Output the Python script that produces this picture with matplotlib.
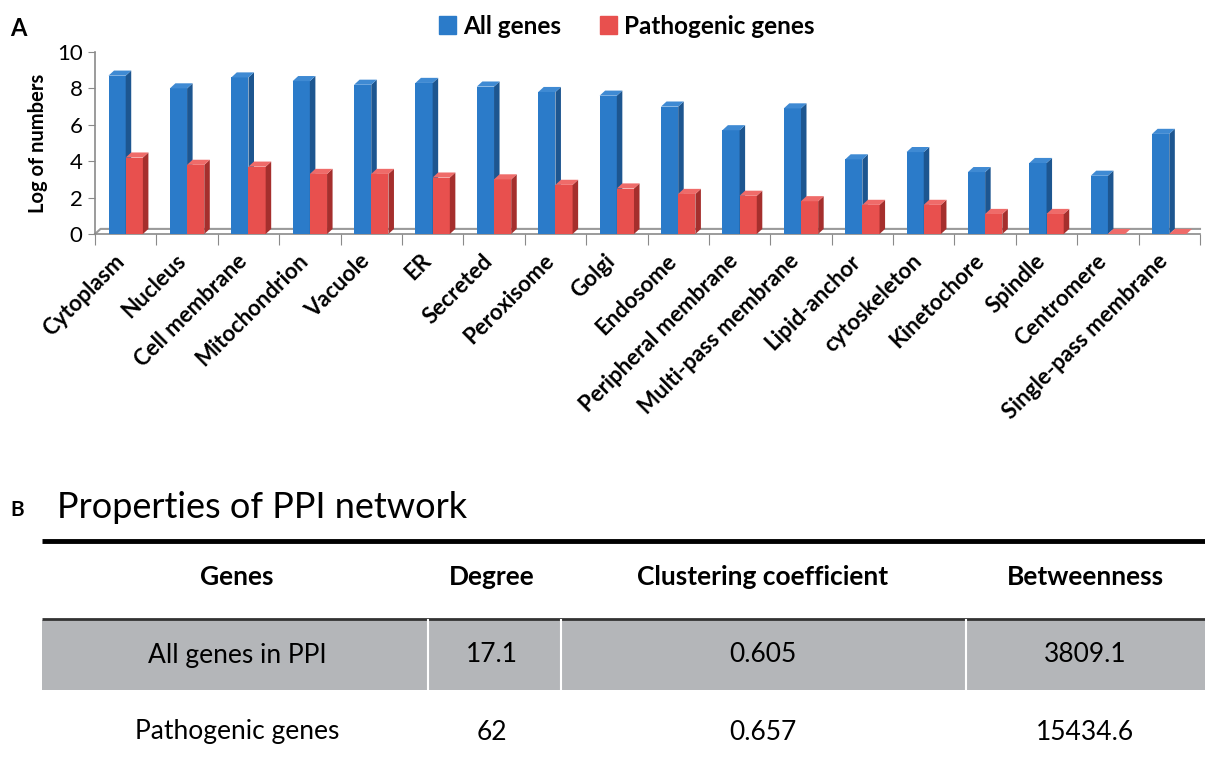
import matplotlib.pyplot as plt
from matplotlib.patches import Polygon, Rectangle
import numpy as np

plt.rcParams['font.family'] = ['Lato', 'DejaVu Sans']

# sub-cellular locations and log counts
locations = ['Cytoplasm', 'Nucleus', 'Cell membrane', 'Mitochondrion', 'Vacuole', 'ER',
             'Secreted', 'Peroxisome', 'Golgi', 'Endosome', 'Peripheral membrane',
             'Multi-pass membrane', 'Lipid-anchor', 'cytoskeleton', 'Kinetochore',
             'Spindle', 'Centromere', 'Single-pass membrane']
all_genes = [8.7, 8.0, 8.6, 8.4, 8.2, 8.3, 8.1, 7.8, 7.6, 7.0, 5.7, 6.9, 4.1, 4.5, 3.4, 3.9, 3.2, 5.5]
pathogenic = [4.2, 3.8, 3.7, 3.3, 3.3, 3.1, 3.0, 2.7, 2.5, 2.2, 2.1, 1.8, 1.6, 1.6, 1.1, 1.1, 0.0, 0.0]

# table of network properties
col_names = ['Genes', 'Degree', 'Clustering coefficient', 'Betweenness']
row_all = ['All genes in PPI', '17.1', '0.605', '3809.1']
row_path = ['Pathogenic genes', '62', '0.657', '15434.6']

W, H = 1205, 758
fig = plt.figure(figsize=(W / 100, H / 100), dpi=100)

# ---- panel A: pseudo-3D grouped bars ----
ax = fig.add_axes([95 / W, 1 - 234 / H, 1105 / W, 182 / H])
n = len(locations)
x = np.arange(n)
bw = 0.28
dx, dy = 0.09, 0.28

blue_f, blue_s, blue_t = '#2b7bc9', '#1d5690', '#3f8ad3'
red_f, red_s, red_t = '#e8504e', '#a52f2d', '#ef6b69'


def bar3d(x0, h, front, side, top):
    ax.add_patch(Rectangle((x0, 0), bw, h, facecolor=front, edgecolor='none', zorder=3))
    ax.add_patch(Polygon([(x0 + bw, 0), (x0 + bw + dx, dy), (x0 + bw + dx, h + dy), (x0 + bw, h)],
                         closed=True, facecolor=side, edgecolor='none', zorder=3))
    ax.add_patch(Polygon([(x0, h), (x0 + dx, h + dy), (x0 + bw + dx, h + dy), (x0 + bw, h)],
                         closed=True, facecolor=top, edgecolor='none', zorder=3))


for i in range(n):
    bar3d(x[i] - bw, all_genes[i], blue_f, blue_s, blue_t)
    bar3d(x[i], pathogenic[i], red_f, red_s, red_t)

ax.set_xlim(-0.5, n - 0.5)
ax.set_ylim(0, 10)
ax.set_yticks([0, 2, 4, 6, 8, 10])
ax.tick_params(axis='y', labelsize=16, color='#8a8a8a', length=5, pad=4)
ax.set_xticks(np.arange(-0.5, n, 1.0))
ax.set_xticklabels([])
ax.tick_params(axis='x', color='#8a8a8a', length=8, direction='out')
for s in ['top', 'right']:
    ax.spines[s].set_visible(False)
for s in ['left', 'bottom']:
    ax.spines[s].set_color('#8a8a8a')
    ax.spines[s].set_linewidth(1.2)

# floor back edge
ax.plot([-0.5, -0.5 + dx, n - 0.5], [0, dy, dy], color='#9a9a9a', lw=1.5, zorder=2, clip_on=False)

ax.set_ylabel('Log of numbers', fontsize=14.5, fontweight='bold', labelpad=6)

for i, lab in enumerate(locations):
    ax.text(x[i] - 0.2, -0.9, lab, rotation=45, ha='right', va='top', rotation_mode='anchor',
            fontsize=16, fontweight='bold')

# legend across the top
ax.legend(handles=[Rectangle((0, 0), 1, 1, color=blue_f), Rectangle((0, 0), 1, 1, color=red_f)],
          labels=['All genes', 'Pathogenic genes'], ncol=2, frameon=False,
          loc='center', bbox_to_anchor=((627 - 95) / 1105, (234 - 26) / 182),
          prop={'size': 17.5, 'weight': 'bold'}, handlelength=0.7, handleheight=0.7,
          handletextpad=0.3, columnspacing=1.6)

# ---- panel labels and table in pixel coordinates ----
tx = fig.add_axes([0, 0, 1, 1], zorder=-1)
tx.set_xlim(0, W)
tx.set_ylim(H, 0)
tx.axis('off')

tx.text(10, 28, 'A', fontsize=17, fontweight='bold', va='center')
tx.text(10, 510, 'B', fontsize=15, fontweight='bold', va='center')
tx.text(57, 508, 'Properties of PPI network', fontsize=26, va='center')

tx.add_patch(Rectangle((42, 620), W - 42, 70, facecolor='#b4b6b9', edgecolor='none'))
tx.plot([42, W], [541, 541], color='black', lw=3.5, solid_capstyle='butt')
tx.plot([42, W], [619, 619], color='#333333', lw=2, solid_capstyle='butt')
for sx in [428, 561, 966]:
    tx.plot([sx, sx], [620, 690], color='white', lw=1.5)

col_x = [237, 492, 763, 1085]
for cx, name in zip(col_x, col_names):
    tx.text(cx, 577, name, ha='center', va='center', fontsize=19, fontweight='bold')
for cx, v in zip(col_x, row_all):
    tx.text(cx, 655, v, ha='center', va='center', fontsize=19)
for cx, v in zip(col_x, row_path):
    tx.text(cx, 732, v, ha='center', va='center', fontsize=19)

fig.savefig('out.png', dpi=100)
